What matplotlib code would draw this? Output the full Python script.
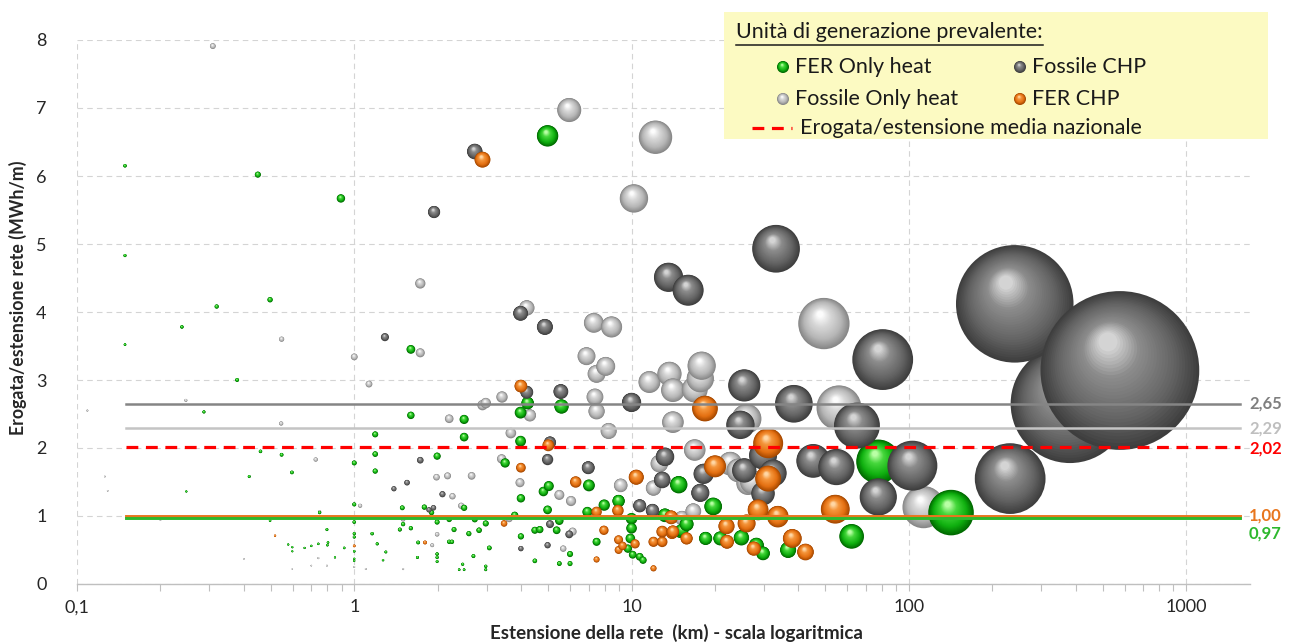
import numpy as np
import matplotlib
matplotlib.use("Agg")
import matplotlib.pyplot as plt
from matplotlib.patches import Rectangle
from matplotlib.ticker import FixedLocator, FuncFormatter, NullFormatter, LogLocator

W, H, DPI = 1294, 643, 100

# ---- Networks: length (km) and delivered heat per metre of network (MWh/m) ----
# Fossile Only heat
fos_heat_x = [0.109, 0.126, 0.129, 0.2, 0.247, 0.309, 0.40, 0.545, 0.547, 0.598,
              0.70, 0.726, 0.742, 0.75, 0.797, 1.0, 1.0, 1.05, 1.10, 1.13,
              1.50, 1.50, 1.73, 1.73, 1.91, 1.98, 1.99, 2.17, 2.20, 2.26,
              2.43, 2.65, 2.90, 2.98, 3.40, 3.41, 3.62, 3.67, 3.96, 4.19,
              4.30, 5.49, 5.67, 5.96, 6.05, 6.13, 6.88, 7.31, 7.38, 7.48,
              7.48, 8.07, 8.27, 8.47, 9.14, 10.2, 11.6, 12.0, 12.2, 12.6,
              13.7, 14.1, 14.1, 15.2, 16.7, 16.9, 16.9, 17.7, 17.9, 22.7,
              24.3, 26.0, 26.3, 27.2, 49.4, 56.0, 113]
fos_heat_y = [2.55, 1.58, 1.37, 0.94, 2.70, 7.91, 0.37, 2.36, 3.60, 0.22,
              0.27, 1.83, 0.38, 1.06, 0.27, 3.34, 0.25, 1.15, 0.22, 2.94,
              0.95, 0.22, 4.42, 3.40, 0.57, 1.57, 0.73, 1.59, 2.43, 1.29,
              1.15, 1.59, 2.63, 2.66, 1.84, 2.75, 0.96, 2.22, 1.49, 4.06,
              2.48, 1.31, 0.52, 6.97, 1.22, 0.77, 3.35, 3.84, 2.75, 2.54,
              3.09, 3.20, 2.25, 3.78, 1.45, 5.67, 2.97, 1.41, 6.57, 1.77,
              3.09, 2.85, 2.38, 0.97, 1.07, 2.86, 1.97, 3.02, 3.21, 1.77,
              1.67, 2.43, 1.48, 1.50, 3.83, 2.59, 1.13]

# FER Only heat
fer_heat_x = [0.149, 0.149, 0.149, 0.239, 0.248, 0.287, 0.319, 0.378, 0.418, 0.449,
              0.459, 0.497, 0.497, 0.547, 0.578, 0.596, 0.598, 0.598, 0.662, 0.70,
              0.742, 0.75, 0.797, 0.80, 0.804, 0.852, 0.895, 0.92, 1.0, 1.0,
              1.0, 1.0, 1.0, 1.0, 1.0, 1.0, 1.16, 1.19, 1.19, 1.19,
              1.21, 1.27, 1.30, 1.46, 1.49, 1.50, 1.60, 1.60, 1.60, 1.69,
              1.70, 1.79, 1.90, 1.99, 1.99, 1.99, 1.99, 1.99, 2.20, 2.20,
              2.25, 2.29, 2.39, 2.46, 2.49, 2.49, 2.49, 2.49, 2.59, 2.69,
              2.72, 2.82, 2.98, 2.98, 2.98, 3.07, 3.50, 3.79, 3.98, 3.98,
              3.99, 3.99, 4.22, 4.48, 4.48, 4.67, 4.81, 4.98, 4.98, 5.03,
              5.37, 5.49, 5.49, 5.59, 6.0, 6.0, 6.93, 7.02, 7.48, 7.97,
              8.98, 9.7, 9.9, 10.0, 10.0, 10.1, 10.7, 11.0, 13.2, 14.8,
              15.0, 15.2, 15.8, 18.5, 19.7, 20.9, 24.9, 28.2, 29.8, 36.7,
              62.2, 77.6, 142]
fer_heat_y = [6.15, 4.83, 3.52, 3.78, 1.36, 2.53, 4.08, 3.00, 1.58, 6.02,
              1.95, 4.18, 0.93, 1.90, 0.58, 1.64, 0.54, 0.48, 0.53, 0.56,
              0.59, 1.05, 0.80, 0.57, 0.61, 0.39, 5.67, 0.53, 1.78, 1.17,
              0.91, 0.74, 0.69, 0.48, 0.37, 0.34, 0.74, 2.20, 1.91, 1.66,
              0.59, 0.35, 0.47, 0.80, 1.12, 0.88, 3.45, 2.48, 0.82, 0.39,
              0.61, 1.13, 1.05, 1.88, 0.91, 0.44, 0.39, 0.33, 0.95, 0.62,
              0.62, 0.80, 0.21, 0.29, 2.42, 2.16, 1.12, 0.21, 0.74, 0.41,
              0.95, 0.79, 0.89, 0.26, 0.21, 0.53, 1.78, 1.01, 2.52, 2.10,
              1.26, 0.70, 2.66, 0.79, 0.34, 0.80, 1.36, 6.59, 1.09, 1.44,
              0.79, 0.30, 0.93, 2.61, 0.44, 0.30, 1.06, 1.45, 0.62, 1.16,
              1.22, 0.52, 0.67, 0.96, 0.82, 0.43, 0.40, 0.35, 1.01, 1.46,
              0.77, 0.79, 0.88, 0.67, 1.14, 0.67, 0.68, 0.57, 0.45, 0.50,
              0.70, 1.80, 1.05]

# Fossile CHP
fos_chp_x = [1.29, 1.39, 1.55, 1.73, 1.86, 1.93, 1.94, 2.08, 2.72, 3.98,
             3.99, 4.19, 4.87, 4.98, 4.98, 5.08, 5.08, 5.56, 5.96, 6.98,
             10.0, 10.7, 11.9, 12.9, 13.2, 13.6, 16.0, 17.7, 18.2, 24.7,
             25.5, 25.5, 29.8, 29.8, 32.4, 33.2, 38.5, 45.2, 54.8, 65.0,
             77.6, 80.5, 103, 232, 381, 241, 577]
fos_chp_y = [3.63, 1.40, 1.49, 1.82, 1.09, 1.12, 5.47, 1.32, 6.36, 3.98,
             0.52, 2.82, 3.78, 0.57, 1.83, 0.88, 2.08, 2.83, 0.73, 1.71,
             2.67, 1.15, 1.08, 1.53, 1.87, 4.51, 4.32, 1.34, 1.62, 2.34,
             2.92, 1.67, 1.89, 1.33, 1.63, 4.93, 2.65, 1.81, 1.72, 2.33,
             1.28, 3.30, 1.74, 1.55, 2.65, 4.12, 3.14]

# FER CHP
fer_chp_x = [0.518, 1.0, 1.80, 2.90, 3.47, 3.99, 3.99, 5.01, 6.29, 7.48,
             7.48, 7.95, 8.93, 8.98, 8.98, 9.28, 10.3, 10.4, 12.0, 12.0,
             12.9, 12.9, 13.9, 14.0, 14.1, 15.8, 18.4, 20.0, 22.0, 22.1,
             26.0, 27.6, 28.6, 31.1, 31.1, 33.7, 38.0, 42.4, 54.3]
fer_chp_y = [0.71, 0.56, 0.61, 6.24, 0.89, 2.91, 1.71, 2.04, 1.50, 1.06,
             0.36, 0.79, 1.08, 0.65, 0.50, 0.56, 0.59, 1.57, 0.23, 0.62,
             0.62, 0.77, 0.98, 0.75, 0.77, 0.67, 2.58, 1.73, 0.85, 0.62,
             0.89, 0.52, 1.09, 2.07, 1.55, 0.99, 0.67, 0.47, 1.10]

# Average delivered heat per metre, by prevailing generation unit
avg_labels = ["Fossile CHP", "Fossile Only heat", "Media nazionale", "FER CHP", "FER Only heat"]
avg_values = [2.65, 2.29, 2.02, 1.00, 0.97]

x_ticks = [0.1, 1, 10, 100, 1000]
y_ticks = [0, 1, 2, 3, 4, 5, 6, 7, 8]

# ---- styling ----
plt.rcParams['font.family'] = ['Lato', 'DejaVu Sans']
plt.rcParams['lines.scale_dashes'] = False

# sphere shading: edge, body, light, highlight
PAL = {
    "Fossile CHP": [(62, 62, 62), (100, 100, 100), (140, 140, 140), (212, 212, 212)],
    "Fossile Only heat": [(135, 135, 135), (182, 182, 182), (218, 218, 218), (252, 252, 252)],
    "FER Only heat": [(0, 105, 0), (15, 175, 15), (70, 215, 60), (185, 255, 165)],
    "FER CHP": [(165, 72, 0), (228, 112, 18), (245, 150, 60), (255, 215, 165)],
}
LINE_COL = ["#858585", "#C4C4C4", "#FF0000", "#E8761E", "#2DB82D"]
LABEL_COL = ["#7F7F7F", "#BFBFBF", "#FF0000", "#E8761E", "#2DB82D"]

N_LAYERS = 30
TS = np.linspace(0.0, 1.0, N_LAYERS)
STOPS = [0.0, 0.3, 0.72, 1.0]
PX_PER_SQRT_GWH = 3.73   # bubble diameter (px) per sqrt of delivered heat


def shade(pal, t):
    cols = np.array(pal, dtype=float) / 255.0
    return [float(np.interp(t, STOPS, cols[:, k])) for k in range(3)]


def sphere_layers(axis, xs, ys, diam_px, pal):
    """Concentric, shifted discs that fake a lit 3-D sphere."""
    disp = axis.transData.transform(np.column_stack([xs, ys]))
    inv = axis.transData.inverted()
    px, py, ss, cc = [], [], [], []
    for (dx, dy), d in zip(disp, diam_px):
        r = d / 2.0
        n = N_LAYERS if d > 12 else 10
        for t in np.linspace(0.0, 1.0, n):
            f = 1.0 - 0.88 * t
            px.append(dx - 0.15 * t * r)
            py.append(dy + 0.36 * t * r)
            ss.append((f * d * 72.0 / DPI) ** 2)
            cc.append(shade(pal, t))
    pts = inv.transform(np.column_stack([px, py]))
    return pts[:, 0], pts[:, 1], ss, cc


fig = plt.figure(figsize=(W / DPI, H / DPI), dpi=DPI)
ax = fig.add_axes([77 / W, 1 - 584 / H, (1250 - 77) / W, (584 - 40) / H])
ax.set_xscale('log')
ax.set_xlim(0.1, 1700)
ax.set_ylim(0, 8)
ax.set_autoscale_on(False)

for s in ['top', 'right', 'left']:
    ax.spines[s].set_visible(False)
ax.spines['bottom'].set_color('#BFBFBF')
ax.spines['bottom'].set_linewidth(1.0)

ax.xaxis.set_major_locator(FixedLocator(x_ticks))
ax.xaxis.set_minor_locator(LogLocator(base=10, subs=np.arange(2, 10)))
ax.xaxis.set_minor_formatter(NullFormatter())
ax.xaxis.set_major_formatter(FuncFormatter(lambda v, p: f"{v:g}".replace('.', ',')))
ax.yaxis.set_major_locator(FixedLocator(y_ticks))
ax.yaxis.set_major_formatter(FuncFormatter(lambda v, p: f"{v:g}"))
ax.tick_params(axis='x', which='both', direction='out', length=5, width=0.8,
               color='#BFBFBF', labelsize=13, labelcolor='#262626', pad=6)
ax.tick_params(axis='y', length=0, labelsize=13, labelcolor='#262626', pad=22)
ax.grid(True, which='major', axis='both', linestyle=(0, (4, 3)), color='#D4D4D4', lw=0.8)
ax.set_axisbelow(True)

# ---- bubbles (area proportional to delivered heat = length x density) ----
groups = [
    ("Fossile Only heat", fos_heat_x, fos_heat_y),
    ("FER Only heat", fer_heat_x, fer_heat_y),
    ("Fossile CHP", fos_chp_x, fos_chp_y),
    ("FER CHP", fer_chp_x, fer_chp_y),
]
AX, AY, AS, AC = [], [], [], []
for name, gx, gy in groups:
    gx = np.asarray(gx, float)
    gy = np.asarray(gy, float)
    diam = PX_PER_SQRT_GWH * np.sqrt(gx * gy)
    bx, by, bs, bc = sphere_layers(ax, gx, gy, diam, PAL[name])
    AX.extend(bx); AY.extend(by); AS.extend(bs); AC.extend(bc)
ax.scatter(AX, AY, s=AS, c=AC, linewidths=0, zorder=3, clip_on=False)

# ---- average lines ----
x_line = [0.15, 1560]
for i, (v, col) in enumerate(zip(avg_values, LINE_COL)):
    if i == 2:
        ax.plot(x_line, [v, v], color=col, lw=2.3, dashes=(8.5, 5.5), zorder=5)
    elif i < 2:
        ax.plot(x_line, [v, v], color=col, lw=1.8, zorder=5)
    else:
        ax.plot(x_line, [v, v], color=col, lw=2.1, zorder=5)

# ---- overlay in pixel coordinates ----
ov = fig.add_axes([0, 0, 1, 1], zorder=10)
ov.set_xlim(0, W)
ov.set_ylim(H, 0)
ov.axis('off')
ov.patch.set_alpha(0)

label_shift = [0, 0, 1.5, 0, 15]
for v, col, sh in zip(avg_values, LABEL_COL, label_shift):
    yp = H - ax.transData.transform((1.0, v))[1] + sh
    ov.text(1249, yp, f"{v:.2f}".replace('.', ','), color=col, fontsize=12,
            fontweight='bold', ha='left', va='center')

fig.text(18 / W, 1 - 298 / H, "Erogata/estensione rete (MWh/m)", rotation=90,
         ha='center', va='center', fontsize=12.8, fontweight='bold', color='#262626')
fig.text(676 / W, 1 - 633 / H, "Estensione della rete  (km) - scala logaritmica",
         ha='center', va='center', fontsize=13.5, fontweight='bold', color='#262626')

# legend box
LEG_FS = 15.5
ov.add_patch(Rectangle((724, 12), 544, 127, facecolor='#FCFAC2', edgecolor='none', zorder=1))
title = ov.text(736, 32, "Unità di generazione prevalente:", fontsize=LEG_FS,
                color='#1A1A1A', ha='left', va='center', zorder=3)
fig.canvas.draw()
bb = title.get_window_extent(fig.canvas.get_renderer())
ov.plot([bb.x0, bb.x1], [45, 45], color='#1A1A1A', lw=1.1, zorder=3)

legend_items = [("FER Only heat", 783, 67), ("Fossile CHP", 1020, 67),
                ("Fossile Only heat", 783, 99), ("FER CHP", 1020, 99)]
LX, LY, LS, LC = [], [], [], []
for name, lx, ly in legend_items:
    bx, by, bs, bc = sphere_layers(ov, [lx], [ly], [12.0], PAL[name])
    LX.extend(bx); LY.extend(by); LS.extend(bs); LC.extend(bc)
    ov.text(lx + 12, ly, name, fontsize=LEG_FS, color='#1A1A1A', ha='left', va='center', zorder=3)
ov.scatter(LX, LY, s=LS, c=LC, linewidths=0, zorder=4)
ov.plot([752, 792], [128, 128], color='#FF0000', lw=2.3, dashes=(8.5, 5.5), zorder=3)
ov.text(800, 128, "Erogata/estensione media nazionale", fontsize=LEG_FS, color='#1A1A1A',
        ha='left', va='center', zorder=3)

fig.savefig("out.png", dpi=DPI)
